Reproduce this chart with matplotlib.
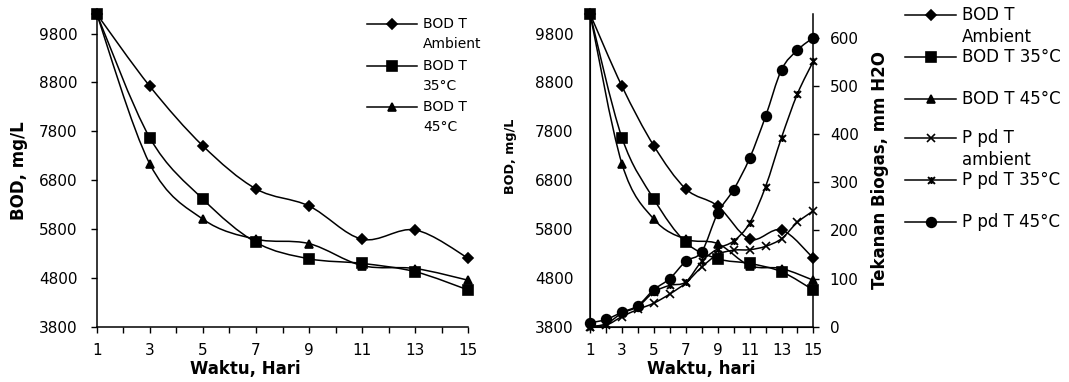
import numpy as np
import matplotlib
matplotlib.use('Agg')
import matplotlib.pyplot as plt
from matplotlib.path import Path
from matplotlib.patches import PathPatch
from matplotlib.lines import Line2D

# --- data ---
days_bod = [1, 3, 5, 7, 9, 11, 13, 15]
bod_ambient = [10200, 8720, 7500, 6620, 6270, 5590, 5780, 5200]
bod_35 = [10200, 7665, 6410, 5525, 5190, 5095, 4925, 4550]
bod_45 = [10200, 7130, 6000, 5590, 5500, 5050, 4990, 4750]

days_p = list(range(1, 16))
p_ambient = [0, 3, 21, 36, 49, 68, 91, 124, 150, 159, 160, 167, 183, 217, 241]
p_35 = [0, 6, 28, 42, 72, 86, 93, 136, 162, 178, 215, 291, 393, 484, 552]
p_45 = [8, 15, 30, 44, 77, 100, 136, 156, 236, 285, 350, 437, 534, 575, 601]

bod_ticks = [3800, 4800, 5800, 6800, 7800, 8800, 9800]
p_ticks = [0, 100, 200, 300, 400, 500, 600]

fts = 11
plt.rcParams['font.family'] = 'DejaVu Sans'

# excel "star" marker: an x with a vertical bar
star = Path([(-1, -1), (1, 1), (-1, 1), (1, -1), (0, -1), (0, 1)],
            [Path.MOVETO, Path.LINETO, Path.MOVETO, Path.LINETO, Path.MOVETO, Path.LINETO])


def smooth_path(x, y):
    # excel-like smoothed line (cubic bezier through the points)
    x = np.asarray(x, float)
    y = np.asarray(y, float)
    n = len(x)
    verts = [(x[0], y[0])]
    codes = [Path.MOVETO]
    for i in range(n-1):
        i0 = max(i-1, 0)
        i3 = min(i+2, n-1)
        c1 = (x[i] + (x[i+1]-x[i0])/6, y[i] + (y[i+1]-y[i0])/6)
        c2 = (x[i+1] - (x[i3]-x[i])/6, y[i+1] - (y[i3]-y[i])/6)
        verts += [c1, c2, (x[i+1], y[i+1])]
        codes += [Path.CURVE4]*3
    return Path(verts, codes)


def series(ax, x, y, marker, ms, mew=1.2):
    ax.add_patch(PathPatch(smooth_path(x, y), fill=False, lw=1.1, edgecolor='black', zorder=2))
    ax.plot(x, y, ls='none', marker=marker, ms=ms, color='black', mew=mew, clip_on=False, zorder=3)


def legend_item(fig, x0, x1, xt, y, marker, ms, label, size, dy, mew=1.2):
    W, H = fig.bbox.width, fig.bbox.height
    xm = (x0+x1)/2
    fig.add_artist(Line2D(np.r_[x0, xm, x1]/W, 1-np.r_[y, y, y]/H, color='black', lw=1.1,
                          marker=marker, ms=ms, mew=mew, markevery=[1]))
    for k, line in enumerate(label.split('\n')):
        fig.text(xt/W, 1-(y+k*dy)/H, line, fontsize=size, va='center', ha='left')


def style_axes(ax):
    ax.spines['top'].set_visible(False)
    ax.spines['right'].set_visible(False)
    ax.set_xlim(1, 15)
    ax.set_ylim(3800, 10200)
    ax.set_xticks(days_p)
    ax.set_xticklabels([str(d) if d % 2 == 1 else '' for d in days_p], fontsize=fts)
    ax.set_yticks(bod_ticks)
    ax.set_yticklabels([str(t) for t in bod_ticks], fontsize=fts)
    ax.tick_params(axis='x', direction='out', length=4.3, width=1, pad=7.5)
    ax.tick_params(axis='y', direction='out', length=4.3, width=1, pad=9.5)
    for s in ax.spines.values():
        s.set_linewidth(1.1)


fig = plt.figure(figsize=(10.69, 3.82), dpi=100)

# left chart
ax1 = fig.add_axes([0.0905, 0.1448, 0.3476, 0.8186])
style_axes(ax1)
series(ax1, days_bod, bod_ambient, 'D', 5)
series(ax1, days_bod, bod_35, 's', 7)
series(ax1, days_bod, bod_45, '^', 6)
ax1.set_xlabel('Waktu, Hari', fontsize=12, fontweight='bold')
ax1.set_ylabel('BOD, mg/L', fontsize=12, fontweight='bold')
ax1.xaxis.set_label_coords(0.40, -0.105)
ax1.yaxis.set_label_coords(-0.185, 0.5)

legend_item(fig, 367, 417, 423, 24, 'D', 5, 'BOD T\nAmbient', 10, 20)
legend_item(fig, 367, 417, 423, 66, 's', 7, 'BOD T\n35\u00b0C', 10, 20)
legend_item(fig, 367, 417, 423, 107, '^', 6, 'BOD T\n45\u00b0C', 10, 20)

# right chart
ax2 = fig.add_axes([0.552, 0.1448, 0.2089, 0.8186])
style_axes(ax2)
ax2.tick_params(axis='y', length=0, pad=12)
series(ax2, days_bod, bod_ambient, 'D', 5)
series(ax2, days_bod, bod_35, 's', 7)
series(ax2, days_bod, bod_45, '^', 6)
ax2.set_xlabel('Waktu, hari', fontsize=12, fontweight='bold')
ax2.set_ylabel('BOD, mg/L', fontsize=9.2, fontweight='bold')
ax2.xaxis.set_label_coords(0.5, -0.105)
ax2.yaxis.set_label_coords(-0.327, 0.546)

ax3 = ax2.twinx()
ax3.set_ylim(0, 650)
ax3.set_yticks(p_ticks)
ax3.set_yticklabels([str(t) for t in p_ticks], fontsize=fts)
ax3.spines['top'].set_visible(False)
ax3.spines['right'].set_linewidth(1.1)
ax3.tick_params(direction='out', length=4.3, width=1, pad=7.5)
series(ax3, days_p, p_ambient, 'x', 6)
series(ax3, days_p, p_35, star, 5, 1.4)
series(ax3, days_p, p_45, 'o', 7)
ax3.set_ylabel('Tekanan Biogas, mm H2O', fontsize=12, fontweight='bold', labelpad=9)

legend_item(fig, 905, 956, 962, 15, 'D', 5, 'BOD T\nAmbient', 12, 22)
legend_item(fig, 905, 956, 962, 57, 's', 7, 'BOD T 35\u00b0C', 12, 22)
legend_item(fig, 905, 956, 962, 99, '^', 6, 'BOD T 45\u00b0C', 12, 22)
legend_item(fig, 905, 956, 962, 138, 'x', 6, 'P pd T\nambient', 12, 22)
legend_item(fig, 905, 956, 962, 180, star, 5, 'P pd T 35\u00b0C', 12, 22, 1.4)
legend_item(fig, 905, 956, 962, 222, 'o', 7, 'P pd T 45\u00b0C', 12, 22)

fig.savefig('out.png', dpi=100)
plt.close()
